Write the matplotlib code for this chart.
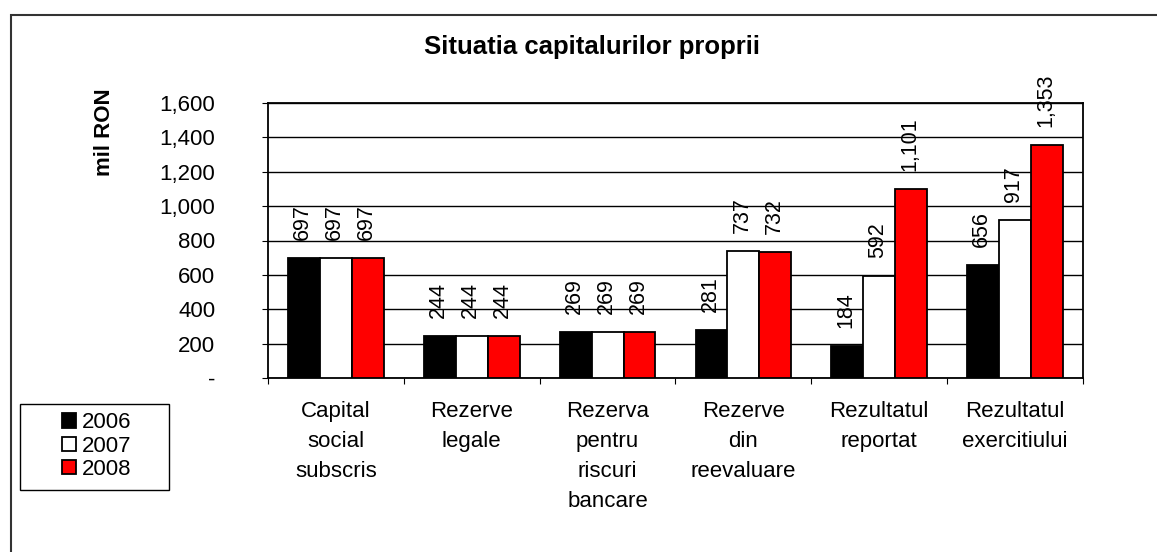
import matplotlib.pyplot as plt
import numpy as np
from matplotlib.patches import Rectangle

plt.rcParams['font.family'] = ['Liberation Sans', 'DejaVu Sans']

categories = ["Capital\nsocial\nsubscris", "Rezerve\nlegale", "Rezerva\npentru\nriscuri\nbancare",
              "Rezerve\ndin\nreevaluare", "Rezultatul\nreportat", "Rezultatul\nexercitiului"]
years = ["2006", "2007", "2008"]
v2006 = [697, 244, 269, 281, 184, 656]
v2007 = [697, 244, 269, 737, 592, 917]
v2008 = [697, 244, 269, 732, 1101, 1353]
colors = ["black", "white", "red"]

W, H = 1157, 552
fig = plt.figure(figsize=(W / 100, H / 100), dpi=100)

# outer chart border
fig.patches.append(Rectangle((11 / W, -0.05), 1.2, (H - 15) / H + 0.05, transform=fig.transFigure,
                             fill=False, edgecolor='#333333', linewidth=1.5))

ax = fig.add_axes([268 / W, (H - 378) / H, (1083 - 268) / W, (378 - 103) / H])

x = np.arange(len(categories))
bw = 0.235
series = [v2006, v2007, v2008]
for i, vals in enumerate(series):
    pos = x + (i - 1) * bw
    ax.bar(pos, vals, bw, color=colors[i], edgecolor='black', linewidth=1.3,
           label=years[i], zorder=3)
    for p, v in zip(pos, vals):
        ax.annotate(f"{v:,}", (p, v), xytext=(-1, 13), textcoords='offset points',
                    rotation=90, ha='center', va='bottom', fontsize=15.5,
                    zorder=4, annotation_clip=False)

ax.set_xlim(-0.5, len(categories) - 0.5)
ax.set_ylim(0, 1600)
ax.set_yticks(range(0, 1601, 200))
ax.set_yticklabels(["-"] + [f"{t:,}" for t in range(200, 1601, 200)], fontsize=16)
ax.yaxis.grid(True, color='black', linewidth=1)
ax.set_axisbelow(True)

ax.set_xticks(np.arange(len(categories) + 1) - 0.5)
ax.set_xticklabels([])
ax.tick_params(axis='x', length=4, direction='out')
ax.tick_params(axis='y', length=4, direction='out', pad=34)
for xi, c in zip(x, categories):
    ax.text(xi, -0.085, c, transform=ax.get_xaxis_transform(), ha='center', va='top',
            fontsize=16, linespacing=1.56)

for s in ax.spines.values():
    s.set_linewidth(1.3)

fig.text(105 / W, (H - 132) / H, "mil RON", rotation=90, ha='center', va='center',
         fontsize=16, fontweight='bold')
fig.text(592 / W, (H - 47) / H, "Situatia capitalurilor proprii", ha='center', va='center',
         fontsize=18.5, fontweight='bold')

# legend box
fig.patches.append(Rectangle((20 / W, (H - 490) / H), 149 / W, 86 / H, transform=fig.transFigure,
                             fill=False, edgecolor='black', linewidth=1))
fig.legend(loc='center', bbox_to_anchor=(97 / W, (H - 446) / H), fontsize=16,
           frameon=False, handlelength=0.6, handleheight=0.6, handletextpad=0.3,
           labelspacing=0.1, borderpad=0)

fig.savefig("out.png", dpi=100)
